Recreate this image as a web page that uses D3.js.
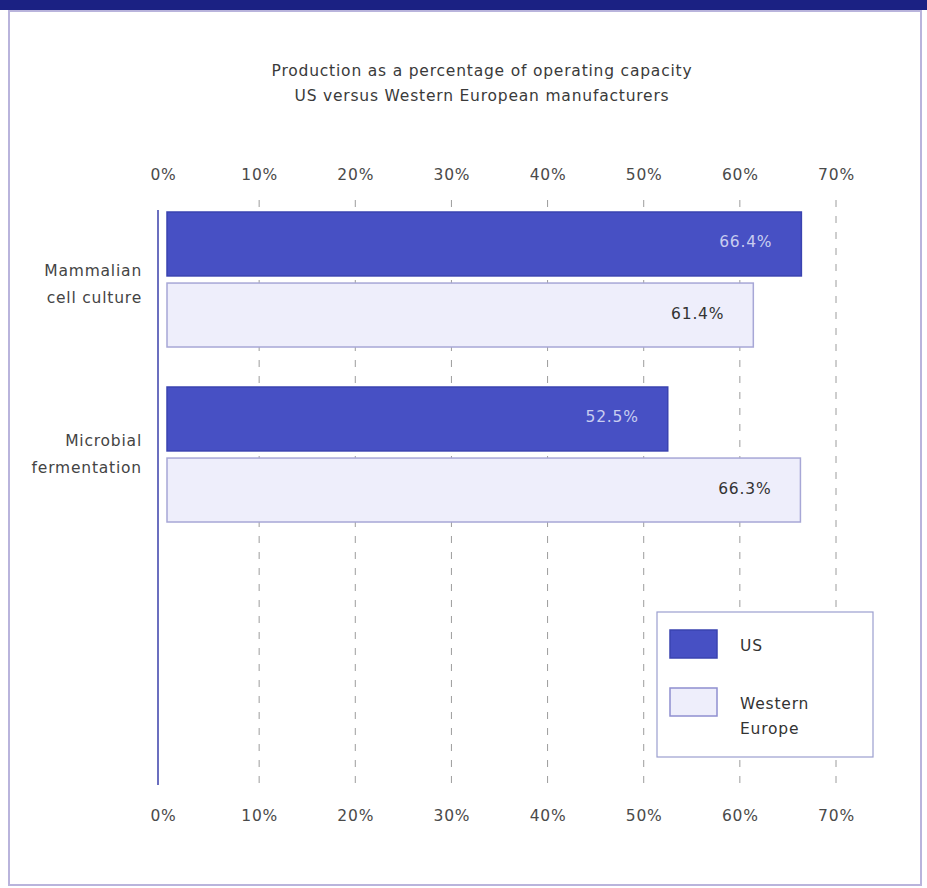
<!DOCTYPE html>
<html><head><meta charset="utf-8">
<script src="https://cdn.jsdelivr.net/npm/d3@7"></script>
<style>body{margin:0;background:#fff}svg{display:block}text{letter-spacing:0.8px}</style>
</head><body>
<svg id="c" width="927" height="888"></svg>
<script>
const categories = [["Mammalian","cell culture"],["Microbial","fermentation"]];
const series = ["US","Western Europe"];
const usValues = [66.4, 52.5];
const weValues = [61.4, 66.3];
const ticks = [0,10,20,30,40,50,60,70];
const titleLines = ["Production as a percentage of operating capacity","US versus Western European manufacturers"];

(function(){
const svg = d3.select("#c");
const font = "'DejaVu Sans', Verdana, sans-serif";
const fs = 15.5;
const colUS = "#4750c4", colWE = "#eeeefb", strokeWE = "#a7a7d6";

// header band and panel border
svg.append("rect").attr("x",0).attr("y",0).attr("width",927).attr("height",10).attr("fill","#1b2183");
svg.append("rect").attr("x",9).attr("y",11).attr("width",912).attr("height",874)
  .attr("fill","#fff").attr("stroke","#b9b4dc").attr("stroke-width",2);

svg.selectAll("text.title").data(titleLines).join("text")
  .attr("x",482).attr("y",(d,i)=>76+i*25).attr("text-anchor","middle")
  .attr("font-family",font).attr("font-size",fs).attr("fill","#3a3a3a").text(d=>d);

const x = d3.scaleLinear().domain([0,70]).range([163,836]);
const rows = [];
categories.forEach((c,i)=>{
  rows.push({cat:i, s:0, v:usValues[i]});
  rows.push({cat:i, s:1, v:weValues[i]});
});
const yCat = d3.scaleBand().domain(d3.range(categories.length)).range([212,562]).paddingInner(0.0);
const ySer = d3.scaleBand().domain([0,1]).range([0,135]).paddingInner(0.1);

// gridlines
svg.selectAll("line.grid").data(ticks.slice(1)).join("line")
  .attr("x1",d=>x(d)).attr("x2",d=>x(d)).attr("y1",200).attr("y2",790)
  .attr("stroke","#9c9c9c").attr("stroke-width",1).attr("stroke-dasharray","7,9");

// top and bottom axis labels
const axTop = d3.axisTop(x).tickValues(ticks).tickFormat(d=>d+"%").tickSize(0);
const gt = svg.append("g").attr("transform","translate(0,183)").call(axTop);
const axBot = d3.axisBottom(x).tickValues(ticks).tickFormat(d=>d+"%").tickSize(0);
const gb = svg.append("g").attr("transform","translate(0,807)").call(axBot);
[gt,gb].forEach(g=>{
  g.select(".domain").remove();
  g.selectAll("text").attr("font-family",font).attr("font-size",fs).attr("fill","#4a4a4a");
});

// bars
svg.selectAll("rect.bar").data(rows).join("rect")
  .attr("x",x(0)+4)
  .attr("y",d=>yCat(d.cat)+ySer(d.s))
  .attr("width",d=>x(d.v)-x(0)-4)
  .attr("height",ySer.bandwidth())
  .attr("fill",d=>d.s===0?colUS:colWE)
  .attr("stroke",d=>d.s===0?"#3a43b0":strokeWE).attr("stroke-width",1.5);

svg.selectAll("text.val").data(rows).join("text")
  .attr("x",d=>x(d.v)-29).attr("y",d=>yCat(d.cat)+ySer(d.s)+ySer.bandwidth()/2-1)
  .attr("text-anchor","end").attr("dominant-baseline","middle")
  .attr("font-family",font).attr("font-size",fs)
  .attr("fill",d=>d.s===0?"#c8cdf0":"#333")
  .text(d=>d.v.toFixed(1)+"%");

// vertical axis line
svg.append("line").attr("x1",x(0)-5).attr("x2",x(0)-5).attr("y1",210).attr("y2",785)
  .attr("stroke","#6b6fbf").attr("stroke-width",2);

// category labels
categories.forEach((c,i)=>{
  const cy = yCat(i)+ySer(0)+ySer.bandwidth();
  svg.append("text").attr("x",142).attr("y",cy-(i?5:0))
    .attr("text-anchor","end").attr("font-family",font).attr("font-size",fs).attr("fill","#444")
    .selectAll("tspan").data(c).join("tspan").attr("x",142).attr("dy",(d,j)=>j?27:0).text(d=>d);
});

// legend
const lg = svg.append("g").attr("transform","translate(657,612)");
lg.append("rect").attr("width",216).attr("height",145).attr("fill","#fff").attr("stroke","#9b9fcf").attr("stroke-width",1.2);
series.forEach((s,i)=>{
  const yy = i===0?18:76;
  lg.append("rect").attr("x",13).attr("y",yy).attr("width",47).attr("height",28)
    .attr("fill",i===0?colUS:colWE).attr("stroke",i===0?"#3a43b0":"#8f8fd0").attr("stroke-width",1.5);
  const t = lg.append("text").attr("x",83).attr("y",i===0?39:97).attr("font-family",font).attr("font-size",fs).attr("fill","#333");
  const parts = s==="Western Europe"?["Western","Europe"]:[s];
  t.selectAll("tspan").data(parts).join("tspan").attr("x",83).attr("dy",(d,j)=>j?25:0).text(d=>d);
});
})();
</script>
</body></html>
